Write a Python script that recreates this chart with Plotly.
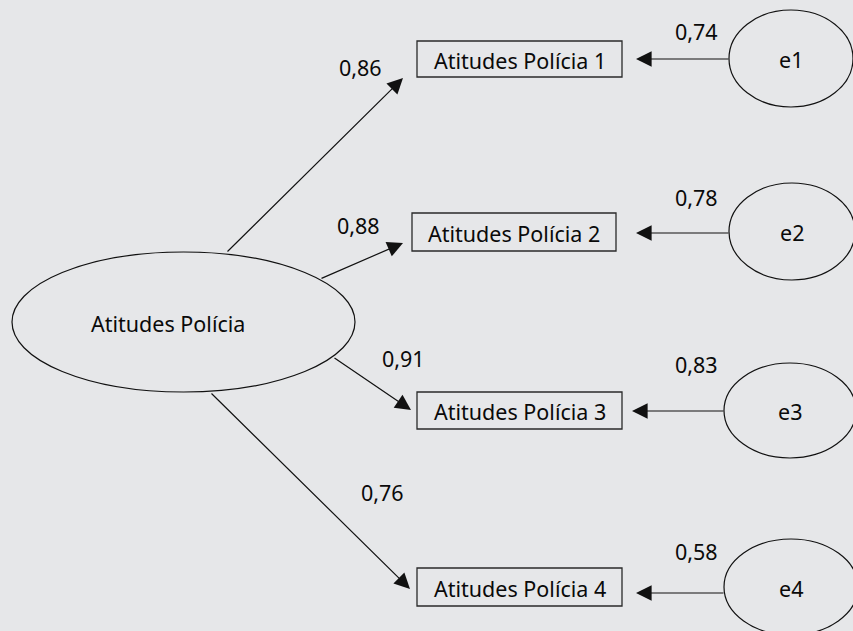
import plotly.graph_objects as go

# ---- data ----
latent_label = "Atitudes Polícia"
indicator_labels = ["Atitudes Polícia 1", "Atitudes Polícia 2", "Atitudes Polícia 3", "Atitudes Polícia 4"]
error_labels = ["e1", "e2", "e3", "e4"]
loadings = [0.86, 0.88, 0.91, 0.76]
error_coefs = [0.74, 0.78, 0.83, 0.58]

# ---- layout positions (pixel-like coordinates) ----
W, H = 853, 631
latent_box = (12, 252, 355, 392)          # x0, y0, x1, y1
latent_text_pos = (168, 323)
box_x0 = [417, 412, 417, 417]
box_x1 = [622, 616, 622, 622]
box_y0 = [41, 213, 392, 568]
box_y1 = [77, 251, 429, 606]
err_cx = [791, 792, 790, 791]
err_cy = [58.5, 231.5, 410.5, 587]
err_rx = [62, 63, 66, 67]
err_ry = [48.5, 48.5, 47.5, 48]
path_tail = [(226, 253), (320, 279), (333, 357), (210, 392)]
path_tip = [(403, 78), (403, 243), (411, 410), (410, 589)]
err_arrow_y = [59, 233, 411, 593]
err_arrow_tip_x = [636, 636, 632, 636]
load_label_pos = [(360, 67), (358, 225), (403, 358), (382, 492)]
err_label_pos = [(696, 31), (696, 197), (696, 364), (696, 551)]

BG = "#e6e7e9"
FONT = "Noto Sans"
FS = 21.5
LINE = "#111111"
TXT = "#0a0a0a"

def fmt(v):
    return f"{v:.2f}".replace(".", ",")

fig = go.Figure()
fig.add_trace(go.Scatter(x=[0, W], y=[0, H], mode="markers",
                         marker=dict(opacity=0), hoverinfo="skip", showlegend=False))

shapes = []
annotations = []

# latent ellipse
shapes.append(dict(type="circle", xref="x", yref="y",
                   x0=latent_box[0], y0=latent_box[1], x1=latent_box[2], y1=latent_box[3],
                   line=dict(color=LINE, width=1.2)))
annotations.append(dict(x=latent_text_pos[0], y=latent_text_pos[1], xref="x", yref="y",
                        text=latent_label, showarrow=False,
                        font=dict(family=FONT, size=FS, color=TXT)))

for i in range(4):
    # indicator box
    shapes.append(dict(type="rect", xref="x", yref="y",
                       x0=box_x0[i], x1=box_x1[i], y0=box_y0[i], y1=box_y1[i],
                       line=dict(color="#2a2a2a", width=1.3)))
    annotations.append(dict(x=(box_x0[i] + box_x1[i]) / 2, y=(box_y0[i] + box_y1[i]) / 2 + 1,
                            xref="x", yref="y", text=indicator_labels[i], showarrow=False,
                            font=dict(family=FONT, size=FS, color=TXT)))
    # error ellipse
    shapes.append(dict(type="circle", xref="x", yref="y",
                       x0=err_cx[i] - err_rx[i], x1=err_cx[i] + err_rx[i],
                       y0=err_cy[i] - err_ry[i], y1=err_cy[i] + err_ry[i],
                       line=dict(color=LINE, width=1.2)))
    annotations.append(dict(x=err_cx[i], y=err_cy[i] + 1, xref="x", yref="y",
                            text=error_labels[i], showarrow=False,
                            font=dict(family=FONT, size=FS, color=TXT)))
    # loading arrow
    annotations.append(dict(x=path_tip[i][0], y=path_tip[i][1], ax=path_tail[i][0], ay=path_tail[i][1],
                            xref="x", yref="y", axref="x", ayref="y", text="",
                            showarrow=True, arrowhead=2, arrowsize=2.6, arrowwidth=1.2,
                            arrowcolor=LINE, standoff=0, startstandoff=0))
    # error arrow
    annotations.append(dict(x=err_arrow_tip_x[i], y=err_arrow_y[i],
                            ax=err_cx[i] - err_rx[i] + 1, ay=err_arrow_y[i],
                            xref="x", yref="y", axref="x", ayref="y", text="",
                            showarrow=True, arrowhead=2, arrowsize=2.6, arrowwidth=1.2,
                            arrowcolor=LINE, standoff=0, startstandoff=0))
    # coefficient labels
    annotations.append(dict(x=load_label_pos[i][0], y=load_label_pos[i][1], xref="x", yref="y",
                            text=fmt(loadings[i]), showarrow=False,
                            font=dict(family=FONT, size=FS, color=TXT)))
    annotations.append(dict(x=err_label_pos[i][0], y=err_label_pos[i][1], xref="x", yref="y",
                            text=fmt(error_coefs[i]), showarrow=False,
                            font=dict(family=FONT, size=FS, color=TXT)))

fig.update_layout(
    width=W, height=H,
    margin=dict(l=0, r=0, t=0, b=0),
    paper_bgcolor=BG, plot_bgcolor=BG,
    shapes=shapes, annotations=annotations,
    xaxis=dict(range=[0, W], visible=False, fixedrange=True),
    yaxis=dict(range=[H, 0], visible=False, fixedrange=True),
    showlegend=False,
)

fig.write_html("out.html", config={"displayModeBar": False},
               post_script="document.body.style.margin='0';document.body.style.background='#e6e7e9';")
